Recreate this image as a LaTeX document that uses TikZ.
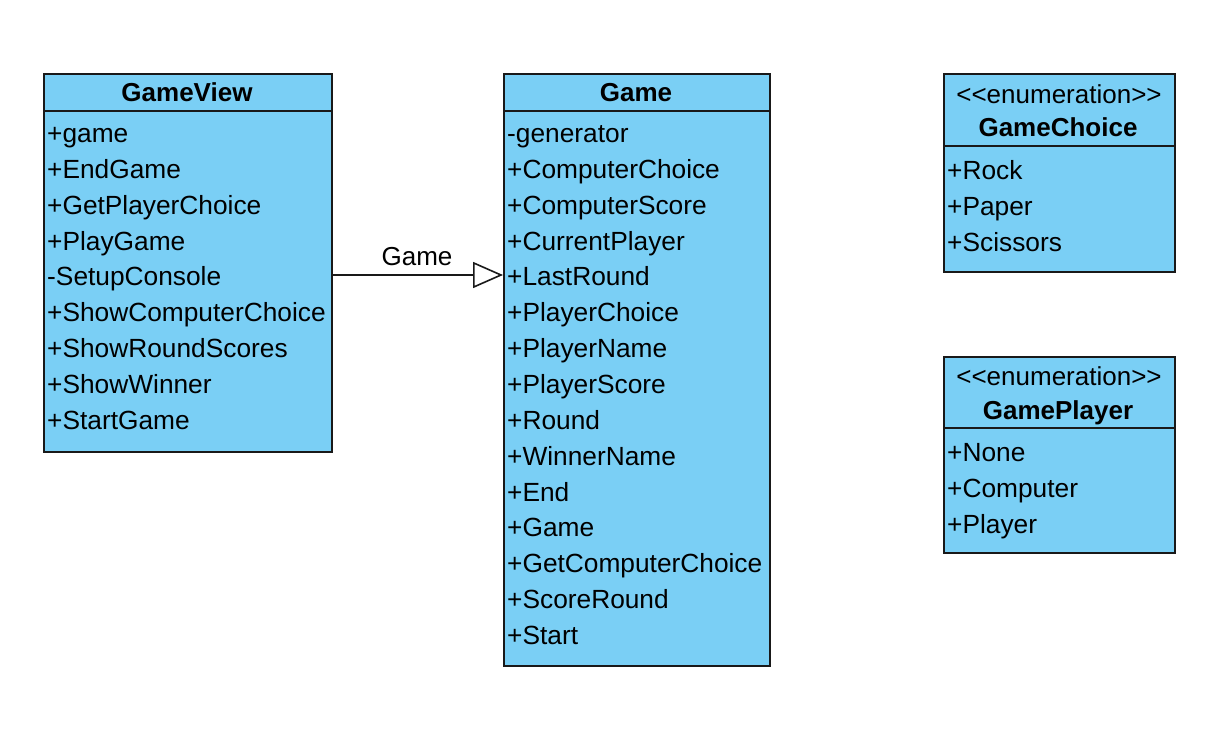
\documentclass[tikz,border=0pt]{standalone}
\usepackage{fontspec}
\setmainfont{Liberation Sans}
\usetikzlibrary{arrows.meta}
\definecolor{umlfill}{RGB}{122,207,245}
\definecolor{umlline}{RGB}{25,25,25}
\tikzset{
  classbox/.style={draw=umlline, line width=1.6pt, fill=umlfill, anchor=north west, inner sep=0pt},
  sepline/.style={draw=umlline, line width=1.6pt},
  member/.style={anchor=west, inner sep=0pt, text height=19pt, text depth=5pt, font=\fontsize{26.3}{28}\selectfont},
  title/.style={anchor=center, inner sep=0pt, text height=19pt, text depth=5pt, font=\bfseries\fontsize{26}{28}\selectfont},
  stereo/.style={anchor=center, inner sep=0pt, text height=19pt, text depth=5pt, font=\fontsize{26}{28}\selectfont},
  gen/.style={draw=umlline, line width=1.6pt, -{Triangle[length=30pt, width=26pt, fill=white, line width=1.6pt]}},
}
\begin{document}
\begin{tikzpicture}[x=1pt, y=-1pt]
\useasboundingbox (0,0) rectangle (1230,735);
% GameView
\node[classbox, minimum width=288pt, minimum height=378pt] (gv) at (43,73) {};
\draw[sepline] (43,111) -- (331,111);
\node[title] (gvt) at (187,95) {GameView};
\foreach \t [count=\i from 0] in {+game,+EndGame,+GetPlayerChoice,+PlayGame,-SetupConsole,+ShowComputerChoice,+ShowRoundScores,+ShowWinner,+StartGame}
  \node[member] (gvm\i) at (47,135.5+35.85*\i) {\t};
% Game
\node[classbox, minimum width=266pt, minimum height=592pt] (game) at (503,73) {};
\draw[sepline] (503,111) -- (769,111);
\node[title] (gt) at (636,95) {Game};
\foreach \t [count=\i from 0] in {-generator,+ComputerChoice,+ComputerScore,+CurrentPlayer,+LastRound,+PlayerChoice,+PlayerName,+PlayerScore,+Round,+WinnerName,+End,+Game,+GetComputerChoice,+ScoreRound,+Start}
  \node[member] (gm\i) at (507,135.5+35.86*\i) {\t};
% GameChoice
\node[classbox, minimum width=231pt, minimum height=198pt] (gc) at (943,73) {};
\draw[sepline] (943,146) -- (1174,146);
\node[stereo] (gcs) at (1059,97) {<{}<enumeration>{}>};
\node[title] (gct) at (1058,130) {GameChoice};
\foreach \t [count=\i from 0] in {+Rock,+Paper,+Scissors}
  \node[member] (gcm\i) at (947,172.5+35.8*\i) {\t};
% GamePlayer
\node[classbox, minimum width=231pt, minimum height=196pt] (gp) at (943,356) {};
\draw[sepline] (943,428) -- (1174,428);
\node[stereo] (gps) at (1059,378) {<{}<enumeration>{}>};
\node[title] (gpt) at (1058,412) {GamePlayer};
\foreach \t [count=\i from 0] in {+None,+Computer,+Player}
  \node[member] (gpm\i) at (947,454.5+35.8*\i) {\t};
% Generalization
\draw[gen] (gv.east |- 0,275) -- (game.west |- 0,275);
\node[stereo] (lbl) at (417,258) {Game};
\end{tikzpicture}
\end{document}
